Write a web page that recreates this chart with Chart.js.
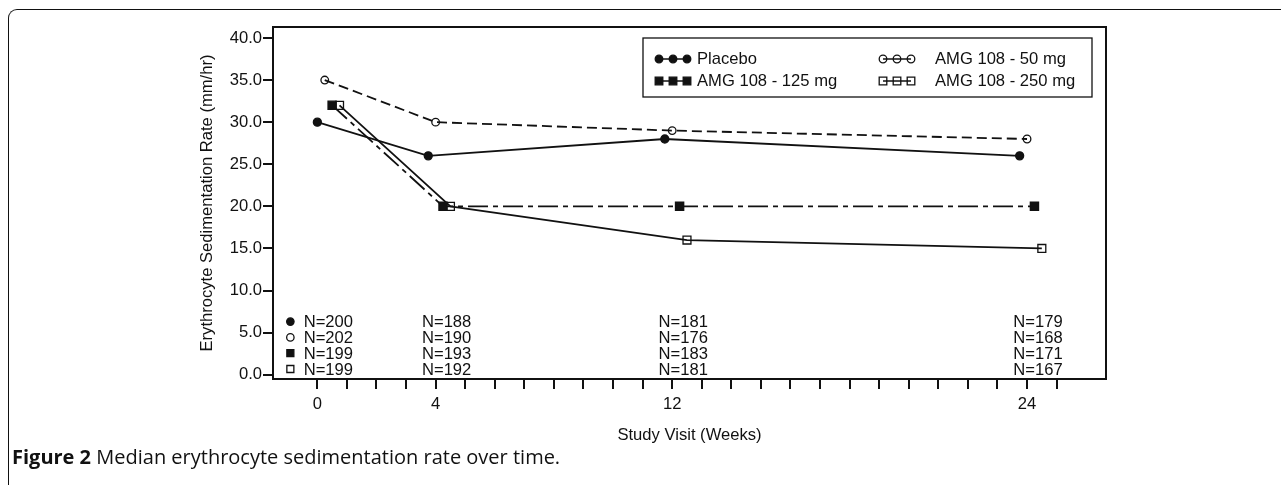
<!DOCTYPE html>
<html>
<head>
<meta charset="utf-8">
<title>Median erythrocyte sedimentation rate over time</title>
<script src="https://cdn.jsdelivr.net/npm/chart.js@4.4.1/dist/chart.umd.min.js"></script>
<style>
body{margin:0;background:#fff;width:1281px;height:485px;overflow:hidden;position:relative;}
#frame{position:absolute;left:8px;top:9px;width:1300px;height:500px;border-top:1.5px solid #111;border-left:1.5px solid #111;border-top-left-radius:9px;}
#esrChart{position:absolute;left:0;top:0;}
#caption{position:absolute;left:12px;top:443px;font-family:'Open Sans',sans-serif;font-size:20px;line-height:28px;color:#111;white-space:nowrap;}
</style>
</head>
<body>
<div id="frame"></div>
<canvas id="esrChart" width="1281" height="485"></canvas>
<div id="caption"><b>Figure 2</b> Median erythrocyte sedimentation rate over time.</div>
<script>
//week / ESR values
var xTickLabels = [0, 4, 12, 24];
var yTickValues = [0, 5, 10, 15, 20, 25, 30, 35, 40];

var placeboWeeks = [0, 3.75, 11.75, 23.75];
var placeboEsr = [30, 26, 28, 26];
var mg50Weeks = [0.25, 4, 12, 24];
var mg50Esr = [35, 30, 29, 28];
var mg125Weeks = [0.5, 4.25, 12.25, 24.25];
var mg125Esr = [32, 20, 20, 20];
var mg250Weeks = [0.75, 4.5, 12.5, 24.5];
var mg250Esr = [32, 20, 16, 15];

//patients at each visit
var nWeeks = [0, 4, 12, 24];
var nPlacebo = [200, 188, 181, 179];
var n50 = [202, 190, 176, 168];
var n125 = [199, 193, 183, 171];
var n250 = [199, 192, 181, 167];

var ink = '#111';
var fontFamily = "'Liberation Sans', Arial, sans-serif";
var fontSize = 16.6;

var weekTicks = [];
for(var w=0; w<=25; w++){
	weekTicks.push(w);
}

function toPoints(xs, ys){
	var pts=[];
	for(var i=0; i<xs.length; i++){
		pts.push({x:xs[i], y:ys[i]});
	}
	return pts;
}

function series(label, xs, ys, shape, filled, radius, dash, counts){
	return {
		label:label,
		data:toPoints(xs, ys),
		borderColor:ink,
		borderWidth:1.8,
		borderDash:dash,
		tension:0,
		pointStyle:shape,
		pointRadius:radius,
		pointBorderWidth:1.3,
		pointBorderColor:ink,
		pointBackgroundColor:filled ? ink : 'rgba(0,0,0,0)',
		shape:shape=='circle' ? 'circle' : 'square',
		filled:filled,
		counts:counts
	};
}

var datasets=[
	series('Placebo', placeboWeeks, placeboEsr, 'circle', true, 4, [], nPlacebo),
	series('AMG 108 - 50 mg', mg50Weeks, mg50Esr, 'circle', false, 3.8, [10,5], n50),
	series('AMG 108 - 125 mg', mg125Weeks, mg125Esr, 'rect', true, 5.8, [20,5,5,5], n125),
	series('AMG 108 - 250 mg', mg250Weeks, mg250Esr, 'rect', false, 5.6, [], n250)
];

function drawMarker(ctx, shape, filled, r, x, y){
	ctx.save();
	ctx.beginPath();
	if(shape=='circle'){
		ctx.arc(x, y, r, 0, Math.PI*2);
	}
	else{
		ctx.rect(x-r, y-r, 2*r, 2*r);
	}
	if(filled){
		ctx.fillStyle=ink;
		ctx.fill();
	}
	ctx.lineWidth=1.3;
	ctx.strokeStyle=ink;
	ctx.stroke();
	ctx.restore();
}

function legendSymbol(ctx, ds, x, y){
	ctx.save();
	ctx.strokeStyle=ink;
	ctx.lineWidth=1.5;
	ctx.beginPath();
	ctx.moveTo(x, y);
	ctx.lineTo(x+28, y);
	ctx.stroke();
	ctx.restore();
	for(var k=0; k<3; k++){
		drawMarker(ctx, ds.shape, ds.filled, 3.8, x+k*14, y);
	}
}

var overlay={
	id:'overlay',
	afterDraw:function(chart){
		var ctx=chart.ctx;
		var area=chart.chartArea;
		var xs=chart.scales.x;
		var sets=chart.data.datasets;
		ctx.save();
		//plot frame
		ctx.lineWidth=2;
		ctx.strokeStyle=ink;
		ctx.strokeRect(area.left, area.top, area.right-area.left, area.bottom-area.top);

		//legend box
		var bx=area.left+370, by=area.top+11;
		ctx.lineWidth=1.3;
		ctx.strokeRect(bx, by, 449, 59);
		ctx.font=fontSize+'px '+fontFamily;
		ctx.fillStyle=ink;
		ctx.textBaseline='middle';
		ctx.textAlign='left';
		var cells=[[0,16,21,54],[1,240,21,292],[2,16,43,54],[3,240,43,292]];
		for(var c=0; c<cells.length; c++){
			var ds=sets[cells[c][0]];
			legendSymbol(ctx, ds, bx+cells[c][1], by+cells[c][2]);
			ctx.fillText(ds.label, bx+cells[c][3], by+cells[c][2]);
		}

		//N counts along the bottom
		ctx.textAlign='center';
		for(var i=0; i<sets.length; i++){
			var rowY=area.bottom-10-(3-i)*15.8;
			var r=sets[i].shape=='circle' ? 3.7 : 3.5;
			drawMarker(ctx, sets[i].shape, sets[i].filled, r, xs.getPixelForValue(nWeeks[0])-27, rowY);
			for(var j=0; j<nWeeks.length; j++){
				ctx.fillText('N='+sets[i].counts[j], xs.getPixelForValue(nWeeks[j])+11, rowY+1);
			}
		}
		ctx.restore();
	}
};

var tickFont={family:fontFamily, size:fontSize};

var chart=new Chart(document.getElementById('esrChart'), {
	type:'line',
	data:{datasets:datasets},
	options:{
		responsive:false,
		animation:false,
		devicePixelRatio:1,
		layout:{padding:{left:195, top:27, right:175, bottom:40}},
		plugins:{legend:{display:false}, tooltip:{enabled:false}},
		scales:{
			x:{
				type:'linear',
				min:-1.5,
				max:26.67,
				afterBuildTicks:function(s){
					s.ticks=weekTicks.map(function(v){return {value:v};});
				},
				afterFit:function(s){ s.height=66; },
				ticks:{
					autoSkip:false,
					maxRotation:0,
					padding:5,
					color:ink,
					font:tickFont,
					callback:function(v){
						return xTickLabels.indexOf(v)>=0 ? String(v) : '';
					}
				},
				grid:{drawOnChartArea:false, drawTicks:true, tickLength:10, lineWidth:2, color:ink},
				border:{display:false},
				title:{display:true, text:'Study Visit (Weeks)', color:ink, font:tickFont, padding:{top:0, bottom:0}}
			},
			y:{
				min:-0.5,
				max:41.3,
				afterBuildTicks:function(s){
					s.ticks=yTickValues.map(function(v){return {value:v};});
				},
				afterFit:function(s){ s.width=78; },
				ticks:{
					padding:1,
					color:ink,
					font:tickFont,
					callback:function(v){ return v.toFixed(1); }
				},
				grid:{drawOnChartArea:false, drawTicks:true, tickLength:10, lineWidth:2, color:ink},
				border:{display:false},
				title:{display:true, text:'Erythrocyte Sedimentation Rate (mm/hr)', color:ink, font:tickFont, padding:{top:2, bottom:0}}
			}
		}
	},
	plugins:[overlay]
});
</script>
</body>
</html>
